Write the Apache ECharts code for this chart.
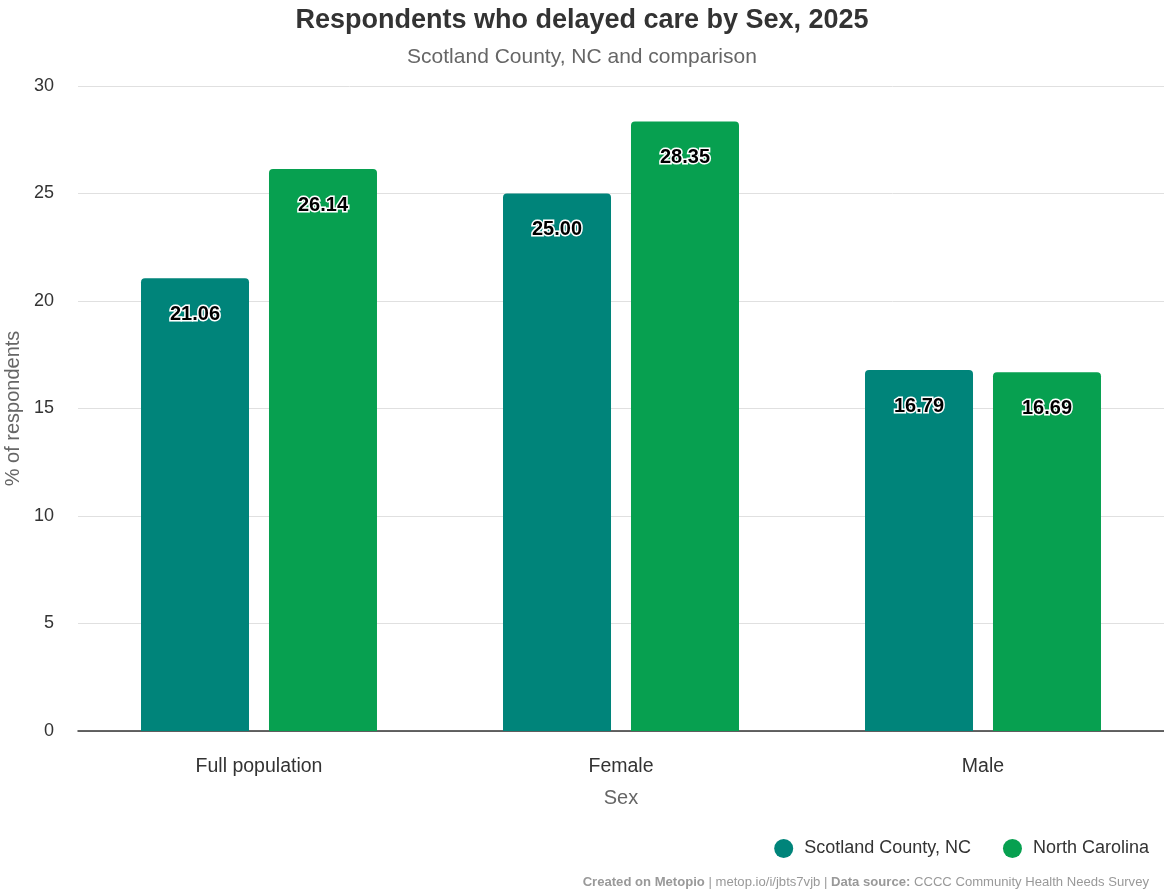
<!DOCTYPE html>
<html>
<head>
<meta charset="utf-8">
<script src="https://cdn.jsdelivr.net/npm/echarts@6/dist/echarts.min.js"></script>
<style>
  html, body { margin: 0; padding: 0; background: #ffffff; }
  #chart { width: 1164px; height: 890px; }
</style>
</head>
<body>
<div id="chart"></div>
<script>
// Survey results: share of respondents who delayed care, by sex
const categories = ['Full population', 'Female', 'Male'];
const scotlandCounty = [21.06, 25.00, 16.79];
const northCarolina = [26.14, 28.35, 16.69];
const seriesNames = ['Scotland County, NC', 'North Carolina'];

const FONT = '"Liberation Sans", Arial, Helvetica, sans-serif';

const barLabel = {
  show: true,
  position: 'insideTop',
  distance: 26,
  formatter: p => p.value.toFixed(2),
  color: '#000000',
  fontFamily: FONT,
  fontWeight: 'bold',
  fontSize: 20,
  textBorderColor: '#ffffff',
  textBorderWidth: 3
};

const chart = echarts.init(document.getElementById('chart'), null, { renderer: 'canvas' });

chart.setOption({
  animation: false,
  textStyle: { fontFamily: FONT },
  title: [
    {
      text: 'Respondents who delayed care by Sex, 2025',
      left: 'center',
      top: 2,
      textStyle: { fontSize: 27, fontWeight: 'bold', color: '#333333', fontFamily: FONT }
    },
    {
      text: 'Scotland County, NC and comparison',
      left: 'center',
      top: 42,
      textStyle: { fontSize: 21, fontWeight: 'normal', color: '#666666', fontFamily: FONT }
    },
    {
      text: '{b|Created on Metopio} | metop.io/i/jbts7vjb | {b|Data source:} CCCC Community Health Needs Survey',
      right: 10,
      top: 871,
      textStyle: {
        fontSize: 13.1,
        fontWeight: 'normal',
        color: '#999999',
        fontFamily: FONT,
        rich: { b: { fontWeight: 'bold', fontSize: 13.1, color: '#999999', fontFamily: FONT } }
      }
    }
  ],
  legend: {
    data: seriesNames,
    right: 10,
    top: 834,
    icon: 'circle',
    itemWidth: 19,
    itemHeight: 19,
    itemGap: 32,
    textStyle: { fontSize: 18, color: '#333333', fontFamily: FONT, padding: [0, 0, 0, 6] }
  },
  grid: { left: 78, right: 0, top: 86, bottom: 159, outerBoundsMode: 'none', containLabel: false },
  xAxis: {
    type: 'category',
    data: categories,
    name: 'Sex',
    nameLocation: 'middle',
    nameGap: 57,
    nameTextStyle: { fontSize: 20, color: '#666666', fontFamily: FONT },
    axisLine: { lineStyle: { color: '#333333', width: 1.5 } },
    axisTick: { show: false },
    axisLabel: { fontSize: 19.5, color: '#333333', margin: 26, fontFamily: FONT }
  },
  yAxis: {
    type: 'value',
    min: 0,
    max: 30,
    interval: 5,
    name: '% of respondents',
    nameLocation: 'middle',
    nameGap: 55,
    nameTextStyle: { fontSize: 20, color: '#666666', fontFamily: FONT },
    axisLine: { show: false },
    axisTick: { show: false },
    axisLabel: { fontSize: 18, color: '#333333', margin: 24, fontFamily: FONT },
    splitLine: { lineStyle: { color: '#e0e0e0', width: 1 } }
  },
  series: [
    {
      name: seriesNames[0],
      type: 'bar',
      data: scotlandCounty,
      barWidth: 108,
      barGap: '18.5%',
      itemStyle: { color: '#00847a', borderRadius: [4, 4, 0, 0] },
      label: barLabel
    },
    {
      name: seriesNames[1],
      type: 'bar',
      data: northCarolina,
      barWidth: 108,
      barGap: '18.5%',
      itemStyle: { color: '#07a050', borderRadius: [4, 4, 0, 0] },
      label: barLabel
    }
  ]
});
</script>
</body>
</html>
